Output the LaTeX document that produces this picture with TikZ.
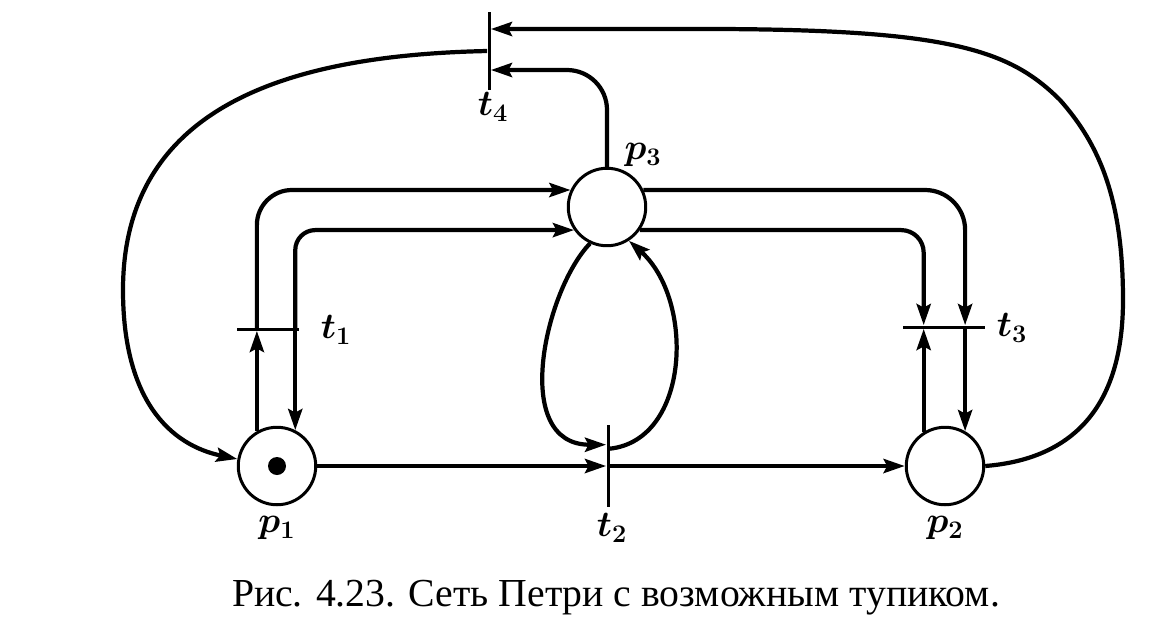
\documentclass[tikz,border=0pt]{standalone}
\usepackage{fontspec}
\newfontfamily\capfont{Liberation Serif}
\usetikzlibrary{arrows.meta, shapes, positioning, calc}

\begin{document}
\begin{tikzpicture}[x=0.02cm, y=-0.02cm,
    place/.style={circle, draw, line width=1.7pt, minimum size=1.55cm, inner sep=0pt},
    token/.style={circle, fill, minimum size=0.36cm, inner sep=0pt},
    vbar/.style={fill, minimum width=0.06cm, inner sep=0pt},
    hbar/.style={fill, minimum height=0.06cm, inner sep=0pt},
    flow/.style={line width=2.4pt, -{Stealth[length=12pt, width=8pt, inset=2pt]}},
    lbl/.style={font=\fontsize{20}{20}\selectfont\boldmath}]
        \useasboundingbox (0,0) rectangle (1160,627);

        \node[place] (p1) at (277,466) {};
        \node[token] (m1) at (p1) {};
        \node[place] (p2) at (945,466) {};
        \node[place] (p3) at (607,207) {};
        \node[hbar, minimum width=1.26cm] (t1) at (268,329) {};
        \node[hbar, minimum width=1.64cm] (t3) at (944,327) {};
        \node[vbar, minimum height=1.64cm] (t2) at (608,466) {};
        \node[vbar, minimum height=1.56cm] (t4) at (489,51) {};

        \node[lbl] (p1lbl) at (277,528) {$p_1$};
        \node[lbl] (p2lbl) at (945,528) {$p_2$};
        \node[lbl] (p3lbl) at (643,155) {$p_3$};
        \node[lbl] (t1lbl) at (336,330) {$t_1$};
        \node[lbl] (t2lbl) at (612,528) {$t_2$};
        \node[lbl] (t3lbl) at (1012,328) {$t_3$};
        \node[lbl] (t4lbl) at (493,107) {$t_4$};
        \node[font=\capfont\fontsize{22.6}{22.6}\selectfont] (cap) at (616,598)
            {Рис. 4.23. Сеть Петри с возможным тупиком.};

        % t1
        \draw[flow] (p1.120) -- (p1.120 |- t1.south);
        \draw[flow, rounded corners=0.7cm] (p1.120 |- t1) |- (p3.155);
        \draw[flow] (p1.63 |- t1) -- (p1.63);
        \draw[flow, rounded corners=0.4cm] (p1.63 |- t1) |- (p3.215);
        % t3
        \draw[flow, rounded corners=0.8cm] (p3.25) -| (p2.60 |- t3.north);
        \draw[flow, rounded corners=0.45cm] (p3.325) -| (p2.122 |- t3.north);
        \draw[flow] (p2.122) -- (p2.122 |- t3.south);
        \draw[flow] (p2.60 |- t3) -- (p2.60);
        % t2
        \draw[flow] (p1) -- (t2);
        \draw[flow] (t2) -- (p2);
        \draw[flow] (p3.245) .. controls (545,290) and (510,445) .. ($(t2.north west)+(0,20)$);
        \draw[flow] ($(t2.north east)+(0,24)$) .. controls (690,440) and (695,300) .. (p3.303);
        % t4
        \draw[flow, rounded corners=0.8cm] (p3.north) |- ($(t4.east)+(0,19)$);
        \draw[flow] (p2.east) .. controls (1060,460) and (1123,420) .. (1123,300)
            .. controls (1123,200) and (1100,145) .. (1060,100)
            .. controls (1010,50) and (950,30) .. (720,29) -- ($(t4.east)+(0,-22)$);
        \draw[flow] (t4.west) .. controls (300,55) and (123,100) .. (123,290)
            .. controls (123,400) and (170,445) .. (p1.170);
\end{tikzpicture}
\end{document}
